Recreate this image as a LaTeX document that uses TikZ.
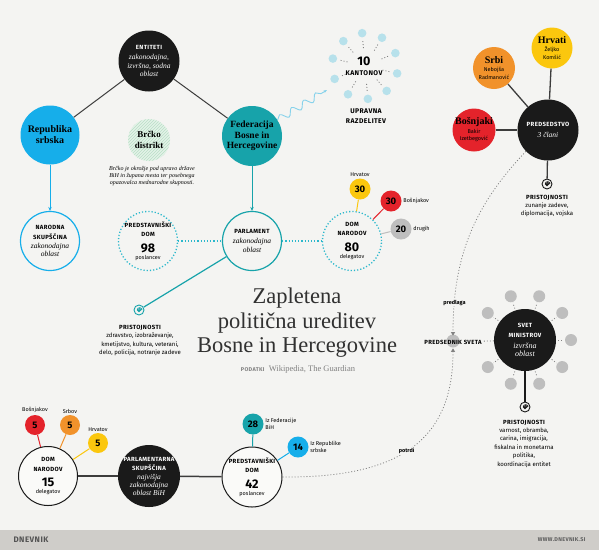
\documentclass[tikz,border=0pt]{standalone}
\usepackage{fontspec}
\setmainfont{Liberation Serif}
\setsansfont{Fira Sans}
\newfontfamily\capsfont{Fira Sans}[LetterSpace=6]
\usetikzlibrary{arrows.meta,patterns,decorations.pathmorphing}

\definecolor{paper}{HTML}{F4F4F2}
\definecolor{ink}{HTML}{1A1A1A}
\definecolor{rsblue}{HTML}{16AEEA}
\definecolor{fedteal}{HTML}{17A3AA}
\definecolor{bhred}{HTML}{E4232B}
\definecolor{bhorange}{HTML}{F1922B}
\definecolor{bhyellow}{HTML}{FBC70E}
\definecolor{dotgrey}{HTML}{BEBEBE}
\definecolor{kantblue}{HTML}{B7E1EB}
\definecolor{brckogreen}{HTML}{B9DFC6}
\definecolor{dotteal}{HTML}{2BB8CC}
\definecolor{footgrey}{HTML}{CFCDC9}

\newcommand\hd[1]{{\capsfont\bfseries\upshape\fontsize{6}{7}\selectfont #1}}
\newcommand\hdl[1]{{\capsfont\bfseries\upshape\fontsize{6.8}{8}\selectfont #1}}
\newcommand\numtxt[1]{{\sffamily\bfseries\upshape\fontsize{12.5}{13}\selectfont #1}}
\newcommand\fine[1]{{\sffamily\upshape\fontsize{5.5}{6}\selectfont #1}}

\begin{document}
\begin{tikzpicture}[x=1pt, y=-1pt,
  bubble/.style={circle, minimum size=#1, inner sep=-15pt, align=center,
    font=\itshape\fontsize{7.5}{8.5}\selectfont},
  numdot/.style={circle, minimum size=21pt, inner sep=0pt, fill=#1,
    font=\sffamily\bfseries\fontsize{9.5}{10}\selectfont},
  tag/.style={font=\sffamily\fontsize{5.5}{6.5}\selectfont, inner sep=1.5pt, align=left},
  link/.style={draw=ink!85, line width=1pt},
  dotline/.style={draw=dotteal, line width=1.3pt, dash pattern=on 1.2pt off 2pt},
  greydash/.style={draw=ink!55, line width=0.8pt, dash pattern=on 1pt off 2pt},
  swirl/.style={circle, draw=#1, line width=0.9pt, minimum size=10pt, inner sep=0pt,
    path picture={\draw[#1, line width=0.7pt] (path picture bounding box.center) ++(0.6,0)
      arc[start angle=0, end angle=180, radius=0.6]
      arc[start angle=180, end angle=360, radius=1.2]
      arc[start angle=0, end angle=180, radius=1.8]
      arc[start angle=180, end angle=360, radius=2.4];}},
  swirl/.default=ink,
  facts/.style={align=center, font=\sffamily\fontsize{6}{8.4}\selectfont},
  pointer/.style={-{Triangle[length=3.5pt, width=4pt]}, shorten >=2pt},
  ]
\useasboundingbox (0,0) rectangle (599,550);
\fill[paper] (0,0) rectangle (599,550);
\fill[footgrey] (0,530) rectangle (599,550);

% entitete
\node[bubble=61pt, fill=ink, text=white] (ent) at (149,61)
  {\hd{ENTITETI}\\[2pt]zakonodajna,\\izvršna, sodna\\oblast};
\node[bubble=59pt, fill=rsblue, font=\bfseries\fontsize{10}{11}\selectfont] (rs) at (50,135) {Republika\\srbska};
\node[bubble=42pt, preaction={fill=brckogreen!40}, pattern=north east lines, pattern color=brckogreen,
  font=\bfseries\fontsize{9}{10.5}\selectfont] (brcko) at (149,140) {Brčko\\distrikt};
\node[align=center, font=\itshape\fontsize{6}{7.3}\selectfont] (brnote) at (152,176)
  {Brčko je okrožje pod upravo države\\BiH in župana mesta ter posebnega\\opazovalca mednarodne skupnosti.};
\node[bubble=60pt, fill=fedteal, font=\bfseries\fontsize{9.5}{10.5}\selectfont] (fed) at (252,136)
  {Federacija\\Bosne in\\Hercegovine};

\draw[link] (ent) -- (rs);
\draw[link] (ent) -- (fed);

% parlamenti entitet
\node[bubble=59pt, draw=rsblue, line width=1.2pt] (ns) at (50,241)
  {\hd{NARODNA}\\[1.5pt]\hd{SKUPŠČINA}\\[0.5pt]zakonodajna\\oblast};
\node[bubble=59pt, dotline] (pd) at (148,241)
  {\hd{PREDSTAVNIŠKI}\\[1pt]\hd{DOM}\\[6pt]\numtxt{98}\\[-1.5pt]\fine{poslancev}};
\node[bubble=59pt, draw=fedteal, line width=1.2pt] (parl) at (252,241)
  {\hd{PARLAMENT}\\[1.5pt]zakonodajna\\oblast};
\node[bubble=59pt, dotline] (dn) at (352,241)
  {\hd{DOM}\\[1pt]\hd{NARODOV}\\[6pt]\numtxt{80}\\[-1.5pt]\fine{delegatov}};
\node[numdot=bhyellow, label={[tag]above:Hrvatov}] (hr30) at (360,189) {30};
\node[numdot=bhred, label={[tag]right:Bošnjakov}] (bo30) at (391,201) {30};
\node[numdot=dotgrey, label={[tag]right:drugih}] (dr20) at (401,229) {20};

\draw[rsblue, line width=1pt, -{Stealth[length=4pt, width=3.5pt]}] (rs) -- (ns);
\draw[fedteal, line width=1pt, -{Stealth[length=4pt, width=3.5pt]}] (fed) -- (parl);
\draw[dotline] (pd) -- (parl);
\draw[dotline] (parl) -- (dn);
\draw[bhyellow, line width=1pt] (dn) -- (hr30);
\draw[bhred, line width=1pt] (dn) -- (bo30);
\draw[dotgrey, line width=1pt] (dn) -- (dr20);

\node[swirl=fedteal] (icoF) at (139,310) {};
\draw[fedteal, line width=1.2pt] (parl) -- (icoF);
\node[facts] (pristF) at (140,340.5)
  {\hd{PRISTOJNOSTI}\\zdravstvo, izobraževanje,\\kmetijstvo, kultura, veterani,\\delo, policija, notranje zadeve};

% kantoni
\node[align=center, font=\fontsize{6}{9}\selectfont] (kant) at (364,66) {\numtxt{10}\\[1pt]\hdl{KANTONOV}};
\foreach \k in {0,...,9}{
  \fill[kantblue] (365,66) ++({-95+36*\k}:33) circle (4.3);
  \draw[greydash] (365,66) ++({-95+36*\k}:18) -- ++({-95+36*\k}:7);
}
\node[align=center, font=\fontsize{7}{10}\selectfont] (upr) at (366,116) {\hdl{UPRAVNA}\\\hdl{RAZDELITEV}};
\coordinate (kin) at (327,90);
\draw[kantblue!70!rsblue, line width=0.9pt, decorate,
  decoration={snake, amplitude=3.5pt, segment length=14pt, post length=5pt},
  -{Stealth[length=3.5pt]}] (fed.32) -- (kin);

% predsedstvo
\node[bubble=41pt, fill=bhyellow, font=\sffamily\fontsize{5.5}{7.5}\selectfont] (hrv) at (552,48)
  {{\rmfamily\bfseries\fontsize{10}{10}\selectfont Hrvati}\\[1pt]Željko\\Komšić};
\node[bubble=42pt, fill=bhorange, font=\sffamily\fontsize{5.5}{7.5}\selectfont] (srb) at (494,68)
  {{\rmfamily\bfseries\fontsize{10}{10}\selectfont Srbi}\\[1pt]Nebojša\\Radmanović};
\node[bubble=43pt, fill=bhred, font=\sffamily\fontsize{5.5}{7.5}\selectfont] (bos) at (474,130)
  {{\rmfamily\bfseries\fontsize{10}{10}\selectfont Bošnjaki}\\[1pt]Bakir\\Izetbegović};
\node[bubble=61pt, fill=ink, text=white] (pred) at (548,130) {\hd{PREDSEDSTVO}\\[2pt]3 člani};
\draw[link, line width=1.3pt] (hrv) -- (pred);
\draw[link, line width=1.3pt] (srb) -- (pred);
\draw[link, line width=1.3pt] (bos) -- (pred);
\node[swirl] (icoP) at (547,184) {};
\draw[link, line width=1.3pt] (pred) -- (icoP);
\node[facts] (pristP) at (547,206) {\hd{PRISTOJNOSTI}\\zunanje zadeve,\\diplomacija, vojska};

% naslov
\node[align=center, font=\fontsize{22.5}{24.5}\selectfont, text=ink!90] (title) at (297,323)
  {Zapletena\\politična ureditev\\Bosne in Hercegovine};
\node[font=\fontsize{8.5}{9}\selectfont, text=ink!55] (src) at (298,369)
  {{\capsfont\bfseries\fontsize{5.5}{6}\selectfont PODATKI}\enspace Wikipedia, The Guardian};

% svet ministrov
\fill[dotgrey] (453,341) circle (6.5);
\node[inner sep=2pt] (psv) at (453,342) {\hd{PREDSEDNIK SVETA}};
\node[bubble=62pt, fill=ink, text=white, font=\itshape\fontsize{8}{8.5}\selectfont] (sm) at (525,340)
  {\hd{SVET}\\[1.5pt]\hd{MINISTROV}\\[2.5pt]izvršna\\oblast};
\foreach \a in {0,36,72,108,144,216,252,288,324}{
  \fill[dotgrey] (525,340) ++(\a:46) circle (6);
  \draw[greydash] (525,340) ++(\a:33) -- ++(\a:6);
}
\draw[greydash] (psv) -- (sm);
\node[swirl] (icoS) at (525,407) {};
\draw[ink, line width=1.5pt] (sm) -- (icoS);
\node[facts] (pristS) at (524,443.5)
  {\hd{PRISTOJNOSTI}\\varnost, obramba,\\carina, imigracija,\\fiskalna in monetarna\\politika,\\koordinacija entitet};

% parlamentarna skupscina BiH
\node[bubble=59pt, draw=ink, line width=1pt, fill=white!50!paper] (dnb) at (48,476)
  {\hd{DOM}\\[1pt]\hd{NARODOV}\\[6pt]\numtxt{15}\\[-1.5pt]\fine{delegatov}};
\node[numdot=bhred, minimum size=20pt, label={[tag]above:Bošnjakov}] (d5r) at (35,425) {5};
\node[numdot=bhorange, minimum size=20pt, label={[tag]above:Srbov}] (d5o) at (70,425) {5};
\node[numdot=bhyellow, minimum size=20pt, label={[tag]above:Hrvatov}] (d5y) at (98,443) {5};
\node[bubble=62pt, fill=ink, text=white, font=\itshape\fontsize{7.5}{8}\selectfont] (ps) at (149,476)
  {\hd{PARLAMENTARNA}\\[1pt]\hd{SKUPŠČINA}\\[1pt]najvišja\\zakonodajna\\oblast BiH};
\node[bubble=60pt, draw=ink, line width=1pt, fill=white!50!paper] (pdb) at (252,477)
  {\hd{PREDSTAVNIŠKI}\\[1pt]\hd{DOM}\\[6pt]\numtxt{42}\\[-1.5pt]\fine{poslancev}};
\node[numdot=fedteal, label={[tag]right:{Iz Federacije\\BiH}}] (p28) at (253,424) {28};
\node[numdot=rsblue, label={[tag]right:{Iz Republike\\srbske}}] (p14) at (298,447) {14};

\draw[bhred, line width=1pt] (dnb) -- (d5r);
\draw[bhorange, line width=1pt] (dnb) -- (d5o);
\draw[bhyellow, line width=1pt] (dnb) -- (d5y);
\draw[link, line width=1.5pt] (dnb) -- (ps);
\draw[link, line width=1.5pt] (ps) -- (pdb);
\draw[fedteal, line width=1pt] (pdb) -- (p28);
\draw[rsblue, line width=1pt] (pdb) -- (p14);

% predlaga / potrdi
\draw[greydash, pointer] (pred.-136) .. controls (475,205) and (453,255) ..
  node[pos=0.85, fill=paper, inner sep=1pt, font=\sffamily\bfseries\fontsize{5.5}{6}\selectfont] {predlaga} (psv.north);
\draw[greydash, pointer] (pdb.east) .. controls (400,478) and (453,440) ..
  node[pos=0.47, fill=paper, inner sep=1pt, font=\sffamily\bfseries\fontsize{5.5}{6}\selectfont] {potrdi} (psv.south);

% noga
\node[anchor=west, font=\capsfont\bfseries\fontsize{8}{8}\selectfont, text=ink!75] (logo) at (10,540) {DNEVNIK};
\node[anchor=east, font=\capsfont\bfseries\fontsize{5.5}{6}\selectfont, text=ink!70] (web) at (589,540) {WWW.DNEVNIK.SI};
\end{tikzpicture}
\end{document}
